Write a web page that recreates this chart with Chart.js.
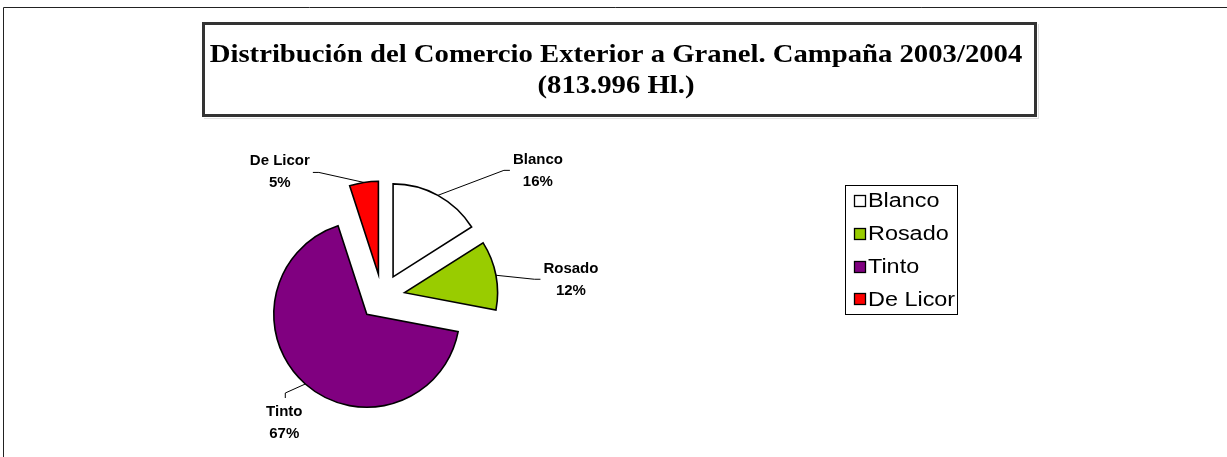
<!DOCTYPE html>
<html>
<head>
<meta charset="utf-8">
<script src="https://cdn.jsdelivr.net/npm/chart.js@4/dist/chart.umd.min.js"></script>
<style>
  html, body { margin: 0; padding: 0; background: #fff; }
  #wrap { position: relative; width: 1227px; height: 457px; }
</style>
</head>
<body>
<div id="wrap"><canvas id="c" width="1227" height="457"></canvas></div>
<script>
// Bulk wine exports by type, share of total volume (%)
const categories = ['Blanco', 'Rosado', 'Tinto', 'De Licor'];
const shares = [16, 12, 67, 5];
const sliceColors = ['#FFFFFF', '#99CC00', '#800080', '#FF0000'];
const titleLines = ['Distribución del Comercio Exterior a Granel. Campaña 2003/2004', '(813.996 Hl.)'];

// Where each data label sits relative to its slice's outer mid-point, and
// which side of the label the leader line enters from.
const labelLayout = [
  { dx: 100, dy: -24, side: 'left' },
  { dx: 75,  dy: 5,   side: 'left' },
  { dx: -21, dy: 39,  side: 'top' },
  { dx: -84, dy: -11, side: 'right' }
];

// Pushes every slice outward from the pie centre along its bisector.
const explodePlugin = {
  id: 'explode',
  beforeDatasetsDraw(chart, args, opts) {
    const { left, right, top, bottom } = chart.chartArea;
    const cx = (left + right) / 2, cy = (top + bottom) / 2;
    chart.getDatasetMeta(0).data.forEach(arc => {
      const mid = (arc.startAngle + arc.endAngle) / 2;
      arc.x = cx + opts.distance * Math.cos(mid);
      arc.y = cy + opts.distance * Math.sin(mid);
    });
  }
};

// Category name + percentage beside each slice, joined by a leader line.
const sliceLabelPlugin = {
  id: 'sliceLabels',
  afterDatasetsDraw(chart) {
    const ctx = chart.ctx;
    const ds = chart.data.datasets[0];
    const total = ds.data.reduce((a, b) => a + b, 0);
    ctx.save();
    ctx.font = 'bold 15px "Liberation Sans", Arial, sans-serif';
    ctx.textAlign = 'center';
    ctx.textBaseline = 'middle';
    chart.getDatasetMeta(0).data.forEach((arc, i) => {
      const mid = (arc.startAngle + arc.endAngle) / 2;
      const px = arc.x + arc.outerRadius * Math.cos(mid);
      const py = arc.y + arc.outerRadius * Math.sin(mid);
      const lay = labelLayout[i];
      const lx = px + lay.dx, ly = py + lay.dy;
      const lines = [chart.data.labels[i], Math.round(ds.data[i] / total * 100) + '%'];
      const halfW = Math.max(...lines.map(t => ctx.measureText(t).width)) / 2;
      let ex, ey, bx, by;
      if (lay.side === 'left') { ex = lx - halfW - 3; ey = ly - 1; bx = ex - 6; by = ey; }
      else if (lay.side === 'right') { ex = lx + halfW + 3; ey = ly + 1; bx = ex + 6; by = ey; }
      else { ex = lx + 1; ey = ly - 25; bx = ex; by = ey - 5; }
      ctx.strokeStyle = '#000';
      ctx.lineWidth = 1;
      ctx.beginPath();
      ctx.moveTo(px, py);
      ctx.lineTo(bx, by);
      ctx.lineTo(ex, ey);
      ctx.stroke();
      ctx.fillStyle = '#000';
      ctx.fillText(lines[0], lx, ly - 11);
      ctx.fillText(lines[1], lx, ly + 11);
    });
    ctx.restore();
  }
};

// Outer frame, boxed title and boxed legend.
const framePlugin = {
  id: 'frame',
  beforeDraw(chart) {
    const ctx = chart.ctx;
    ctx.save();
    ctx.fillStyle = '#fff';
    ctx.fillRect(0, 0, chart.width, chart.height);
    ctx.strokeStyle = '#222';
    ctx.lineWidth = 1;
    ctx.beginPath();
    ctx.moveTo(3.5, chart.height);
    ctx.lineTo(3.5, 7.5);
    ctx.lineTo(chart.width, 7.5);
    ctx.stroke();
    ctx.restore();
  },
  afterDraw(chart) {
    const ctx = chart.ctx;
    ctx.save();
    // title box
    ctx.strokeStyle = 'rgba(0,0,0,0.12)';
    ctx.lineWidth = 1;
    ctx.beginPath();
    ctx.moveTo(204, 118.5); ctx.lineTo(1038.5, 118.5); ctx.lineTo(1038.5, 24);
    ctx.stroke();
    ctx.strokeStyle = '#333';
    ctx.lineWidth = 3;
    ctx.strokeRect(203.5, 23.5, 832, 92);
    ctx.fillStyle = '#000';
    ctx.font = 'bold 25px "Liberation Serif", "Times New Roman", serif';
    ctx.textAlign = 'center';
    ctx.textBaseline = 'alphabetic';
    [62, 93].forEach((base, k) => {
      ctx.save();
      ctx.translate(616, base);
      ctx.scale(1.148, 1);
      ctx.fillText(titleLines[k], 0, 0);
      ctx.restore();
    });
    // legend box
    ctx.strokeStyle = '#000';
    ctx.lineWidth = 1;
    ctx.strokeRect(845.5, 185.5, 112, 129);
    const ds = chart.data.datasets[0];
    ctx.font = '19.5px "Liberation Sans", Arial, sans-serif';
    ctx.textAlign = 'left';
    ctx.textBaseline = 'middle';
    chart.data.labels.forEach((name, i) => {
      const cy = 201 + i * 32.8;
      const sy = Math.round(cy) - 5.5;
      ctx.fillStyle = ds.backgroundColor[i];
      ctx.fillRect(854.5, sy, 11, 11);
      ctx.strokeStyle = '#000';
      ctx.lineWidth = 1.3;
      ctx.strokeRect(854.5, sy, 11, 11);
      ctx.fillStyle = '#000';
      ctx.save();
      ctx.translate(868, cy + 1);
      ctx.scale(1.2, 1);
      ctx.fillText(name, 0, 0);
      ctx.restore();
    });
    ctx.restore();
  }
};

new Chart(document.getElementById('c'), {
  type: 'pie',
  data: {
    labels: categories,
    datasets: [{
      data: shares,
      backgroundColor: sliceColors,
      borderColor: '#000',
      borderWidth: 1.6,
      borderJoinStyle: 'miter',
      radius: 93
    }]
  },
  options: {
    responsive: false,
    animation: false,
    events: [],
    devicePixelRatio: 1,
    layout: { padding: { left: 262, right: 725, top: 177, bottom: 40 } },
    plugins: {
      legend: { display: false },
      tooltip: { enabled: false },
      title: { display: false },
      explode: { distance: 23 }
    }
  },
  plugins: [explodePlugin, sliceLabelPlugin, framePlugin]
});
</script>
</body>
</html>
